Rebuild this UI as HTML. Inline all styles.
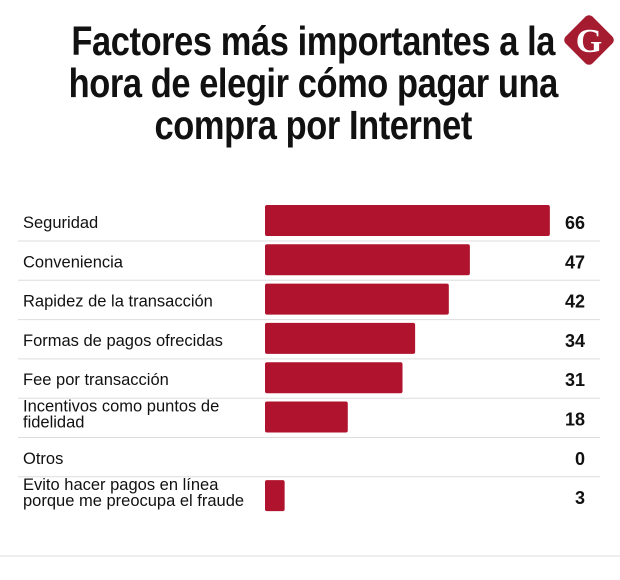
<!DOCTYPE html>
<html><head><meta charset="utf-8"><style>
body{margin:0;background:#fff;width:620px;height:580px;overflow:hidden;font-family:"Liberation Sans",sans-serif}
#title{position:absolute;left:0;top:20px;width:620px;text-align:center;font-weight:bold;font-size:41px;line-height:42px;color:#111;letter-spacing:-0.5px}
#title span{display:inline-block;transform:scaleX(0.84);transform-origin:310px 0;white-space:nowrap}
svg text{font-family:"Liberation Sans",sans-serif}
</style></head><body>
<div id="title"><span>Factores más importantes a la<br>hora de elegir cómo pagar una<br>compra por Internet</span></div>
<svg width="620" height="580" style="position:absolute;left:0;top:0" id="chart">
<g>
<rect x="570" y="21" width="38" height="38" rx="5" fill="#a51c30" transform="rotate(45 589 40)"/>
<text x="589" y="52" text-anchor="middle" style="font-family:'Liberation Serif',serif" font-weight="bold" font-size="34" fill="#fff">G</text>
</g>
<g id="rows"></g>
<line x1="0" y1="556" x2="620" y2="556" stroke="#ddd" stroke-width="1"/>
</svg>
<script>
const categories=[["Seguridad"],["Conveniencia"],["Rapidez de la transacción"],["Formas de pagos ofrecidas"],["Fee por transacción"],["Incentivos como puntos de","fidelidad"],["Otros"],["Evito hacer pagos en línea","porque me preocupa el fraude"]];
const values=[66,47,42,34,31,18,0,3];
const x0=265,base=272,scale=4.21,top0=203,pitch=39.3;
const x=v=>base+v*scale;
const g=document.getElementById('rows');
const ns="http://www.w3.org/2000/svg";
values.forEach((v,i)=>{
 const y=top0+i*pitch;
 const t=document.createElementNS(ns,'text');
 
 
 t.setAttribute('x',23);t.setAttribute('font-size','16.5');t.setAttribute('fill','#111');
 const lines=categories[i];
 lines.forEach((s,j)=>{const ts=document.createElementNS(ns,'tspan');ts.setAttribute('x',23);
  ts.setAttribute('y',lines.length==1? y+25 : y+12+j*16);ts.textContent=s;t.appendChild(ts);});
 g.appendChild(t);
 if(v>0){const r=document.createElementNS(ns,'rect');
 
 
 r.setAttribute('x',x0);r.setAttribute('y',y+2);r.setAttribute('width',x(v)-x0);r.setAttribute('height',31);r.setAttribute('rx',2);r.setAttribute('fill','#b0132d');g.appendChild(r);}
 const vl=document.createElementNS(ns,'text');
 
 
 vl.setAttribute('x',585);vl.setAttribute('y',y+26);vl.setAttribute('text-anchor','end');vl.setAttribute('font-weight','bold');vl.setAttribute('font-size','18');vl.setAttribute('fill','#111');vl.textContent=v;g.appendChild(vl);
 if(i<values.length-1){const l=document.createElementNS(ns,'line');
 
 
 l.setAttribute('x1',18);l.setAttribute('x2',600);l.setAttribute('y1',y+38);l.setAttribute('y2',y+38);l.setAttribute('stroke','#ddd');g.appendChild(l);}
});
</script>
</body></html>
